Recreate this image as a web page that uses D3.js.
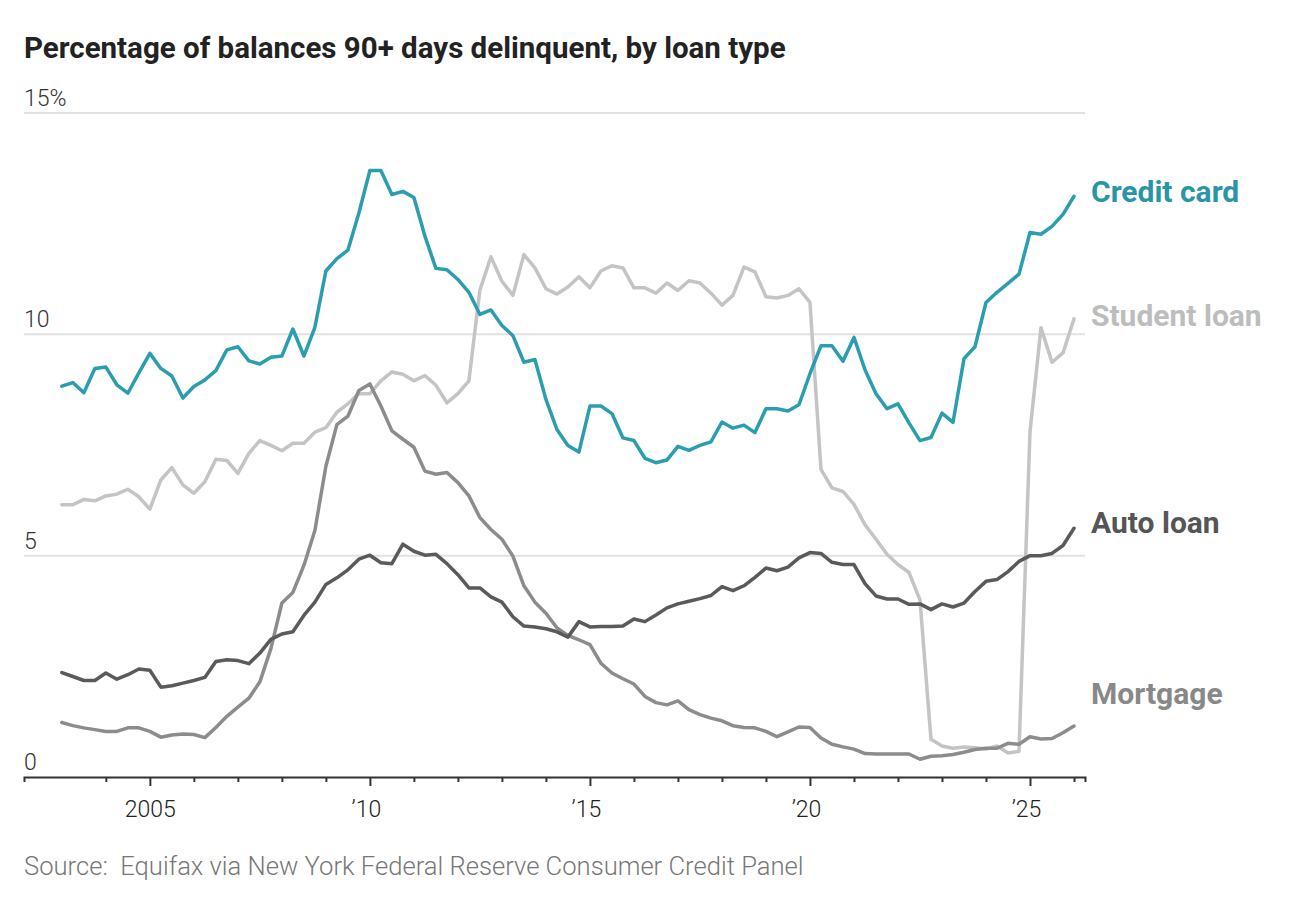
<!DOCTYPE html>
<html>
<head>
<meta charset="utf-8">
<script src="https://cdn.jsdelivr.net/npm/d3@7"></script>
<style>
  body { margin: 0; background: #fff; }
  svg text { font-family: Roboto, "Liberation Sans", sans-serif; }
</style>
</head>
<body>
<div id="chart"></div>
<script>
// Quarterly series, 2003 Q1 onward (percent of balances 90+ days delinquent)
var startYear = 2003;

var creditCard = [8.83, 8.91, 8.68, 9.23, 9.26, 8.86, 8.67, 9.13, 9.57, 9.23,
  9.06, 8.56, 8.82, 8.97, 9.18, 9.65, 9.72, 9.40, 9.33, 9.48,
  9.51, 10.12, 9.51, 10.16, 11.43, 11.71, 11.90, 12.74, 13.70, 13.70,
  13.16, 13.23, 13.09, 12.22, 11.49, 11.46, 11.24, 10.95, 10.45, 10.55,
  10.20, 9.97, 9.37, 9.43, 8.53, 7.85, 7.49, 7.34, 8.38, 8.38,
  8.21, 7.66, 7.60, 7.20, 7.10, 7.16, 7.47, 7.38, 7.49, 7.57,
  8.02, 7.88, 7.95, 7.78, 8.32, 8.32, 8.27, 8.41, 9.11, 9.74,
  9.74, 9.39, 9.93, 9.20, 8.66, 8.32, 8.43, 8.00, 7.60, 7.67,
  8.22, 8.01, 9.45, 9.72, 10.72, 10.95, 11.15, 11.36, 12.30, 12.26,
  12.44, 12.71, 13.12];

var studentLoan = [6.15, 6.15, 6.27, 6.24, 6.35, 6.39, 6.50, 6.33, 6.05, 6.71,
  6.99, 6.60, 6.41, 6.67, 7.18, 7.15, 6.86, 7.31, 7.60, 7.49,
  7.37, 7.54, 7.54, 7.79, 7.89, 8.24, 8.43, 8.66, 8.66, 8.95,
  9.15, 9.10, 8.95, 9.07, 8.85, 8.45, 8.66, 8.95, 11.00, 11.75,
  11.20, 10.88, 11.80, 11.50, 11.03, 10.91, 11.07, 11.30, 11.05, 11.43,
  11.55, 11.50, 11.05, 11.05, 10.93, 11.16, 10.99, 11.21, 11.16, 10.93,
  10.66, 10.88, 11.52, 11.41, 10.85, 10.82, 10.88, 11.03, 10.72, 6.95,
  6.53, 6.45, 6.16, 5.70, 5.37, 5.03, 4.80, 4.62, 4.00, 0.85,
  0.70, 0.65, 0.68, 0.66, 0.63, 0.70, 0.54, 0.58, 7.80, 10.15,
  9.37, 9.58, 10.35];

var autoLoan = [2.36, 2.27, 2.18, 2.18, 2.35, 2.21, 2.31, 2.44, 2.41, 2.03,
  2.06, 2.12, 2.18, 2.25, 2.61, 2.65, 2.63, 2.56, 2.80, 3.11,
  3.23, 3.28, 3.65, 3.95, 4.35, 4.50, 4.68, 4.92, 5.01, 4.84,
  4.82, 5.26, 5.10, 5.01, 5.03, 4.82, 4.57, 4.27, 4.27, 4.07,
  3.95, 3.62, 3.41, 3.39, 3.35, 3.28, 3.16, 3.51, 3.39, 3.40,
  3.40, 3.41, 3.57, 3.51, 3.66, 3.82, 3.91, 3.97, 4.03, 4.10,
  4.30, 4.21, 4.32, 4.51, 4.72, 4.66, 4.74, 4.95, 5.07, 5.05,
  4.85, 4.80, 4.80, 4.37, 4.09, 4.02, 4.02, 3.90, 3.91, 3.78,
  3.91, 3.84, 3.93, 4.19, 4.42, 4.46, 4.64, 4.87, 5.00, 5.00,
  5.05, 5.23, 5.62];

var mortgage = [1.23, 1.16, 1.11, 1.07, 1.03, 1.03, 1.11, 1.11, 1.03, 0.90,
  0.95, 0.97, 0.96, 0.89, 1.12, 1.37, 1.58, 1.78, 2.15, 2.90,
  3.93, 4.17, 4.78, 5.57, 7.02, 7.96, 8.15, 8.73, 8.88, 8.38,
  7.82, 7.63, 7.45, 6.91, 6.84, 6.88, 6.65, 6.35, 5.86, 5.59,
  5.37, 4.99, 4.32, 3.95, 3.70, 3.37, 3.20, 3.10, 2.99, 2.57,
  2.35, 2.22, 2.10, 1.82, 1.68, 1.63, 1.72, 1.52, 1.41, 1.33,
  1.27, 1.16, 1.12, 1.11, 1.03, 0.91, 1.02, 1.13, 1.12, 0.88,
  0.74, 0.68, 0.63, 0.53, 0.52, 0.52, 0.52, 0.52, 0.40, 0.47,
  0.48, 0.51, 0.56, 0.62, 0.65, 0.65, 0.76, 0.74, 0.91, 0.86,
  0.87, 1.00, 1.15];

var yTicks = [0, 5, 10, 15];
var xTickYears = d3.range(2004, 2027);

// drawing order: back to front
var series = [
  {name: "Student loan", values: studentLoan, color: "#c4c4c4", text: "#bdbdbd", dy: 7},
  {name: "Mortgage", values: mortgage, color: "#8c8c8c", text: "#888888", dy: -22},
  {name: "Auto loan", values: autoLoan, color: "#5a5a5a", text: "#555555", dy: 5},
  {name: "Credit card", values: creditCard, color: "#2b9db0", text: "#2a95a8", dy: 6}
];

var width = 1295, height = 923;
var plot = {left: 24, right: 1085, top: 113, bottom: 777};

var svg = d3.select("#chart").append("svg")
  .attr("width", width)
  .attr("height", height);

var x = d3.scaleLinear().domain([2002.14, 2026.25]).range([plot.left, plot.right]);
var y = d3.scaleLinear().domain([0, 15]).range([plot.bottom, plot.top]);

// Title
svg.append("text")
  .attr("x", 24).attr("y", 58)
  .attr("font-size", 29.5).attr("font-weight", 700)
  .attr("fill", "#222")
  .text("Percentage of balances 90+ days delinquent, by loan type");

// Grid lines
svg.append("g").selectAll("line")
  .data(yTicks.filter(function(d) { return d > 0; }))
  .enter().append("line")
  .attr("x1", plot.left).attr("x2", plot.right)
  .attr("y1", function(d) { return y(d); })
  .attr("y2", function(d) { return y(d); })
  .attr("stroke", "#e2e2e2")
  .attr("stroke-width", 2);

// Y labels
svg.append("g").selectAll("text")
  .data(yTicks)
  .enter().append("text")
  .attr("x", plot.left)
  .attr("y", function(d) { return y(d) - 7; })
  .attr("font-size", 23)
  .attr("font-weight", 300)
  .attr("fill", "#333")
  .text(function(d) { return d === 15 ? "15%" : d; });

// X axis
var xAxis = d3.axisBottom(x)
  .tickValues(xTickYears)
  .tickSizeOuter(0)
  .tickSize(5)
  .tickFormat(function(d) {
    if (d % 5 !== 0) return "";
    return d === 2005 ? "2005" : "\u2019" + String(d).slice(2);
  });

var gx = svg.append("g")
  .attr("transform", "translate(0," + plot.bottom + ")")
  .call(xAxis);
gx.select(".domain").attr("stroke", "#333").attr("stroke-width", 2);
gx.selectAll(".tick line")
  .attr("stroke", "#333")
  .attr("stroke-width", 2)
  .attr("y2", function(d) { return d % 5 === 0 ? 9 : 5; });
gx.selectAll(".tick text")
  .attr("y", 40).attr("dy", 0)
  .attr("dx", function(d) { return d === 2005 ? 0 : -4; })
  .attr("font-size", 23)
  .attr("font-weight", 300)
  .attr("font-family", "Roboto, 'Liberation Sans', sans-serif")
  .attr("fill", "#222");

// Lines
var line = d3.line()
  .x(function(d, i) { return x(startYear + i / 4); })
  .y(function(d) { return y(d); });

svg.append("g").selectAll("path")
  .data(series)
  .enter().append("path")
  .attr("d", function(s) { return line(s.values); })
  .attr("fill", "none")
  .attr("stroke", function(s) { return s.color; })
  .attr("stroke-width", 3.5)
  .attr("stroke-linejoin", "round")
  .attr("stroke-linecap", "round");

// Series labels
svg.append("g").selectAll("text")
  .data(series)
  .enter().append("text")
  .attr("x", 1091)
  .attr("y", function(s) { return y(s.values[s.values.length - 1]) + s.dy; })
  .attr("font-size", 30)
  .attr("font-weight", 700)
  .attr("fill", function(s) { return s.text; })
  .text(function(s) { return s.name; });

// Source
svg.append("text")
  .attr("x", 24).attr("y", 875)
  .attr("font-size", 25.6)
  .attr("font-weight", 300)
  .attr("fill", "#777")
  .style("white-space", "pre")
  .text("Source:  Equifax via New York Federal Reserve Consumer Credit Panel");
</script>
</body>
</html>
